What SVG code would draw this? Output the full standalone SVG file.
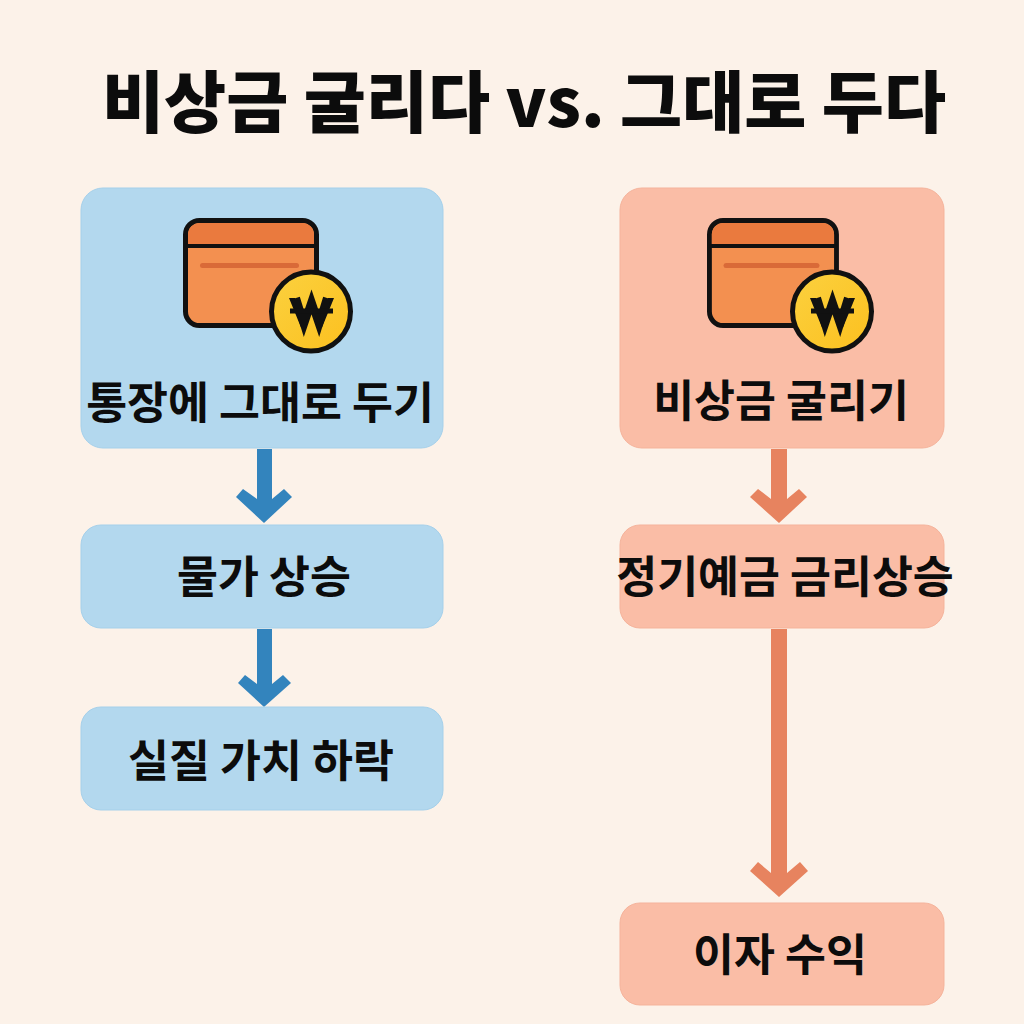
<svg xmlns="http://www.w3.org/2000/svg" width="1024" height="1024" viewBox="0 0 1024 1024">
<defs>
<style>
text{font-family:"Noto Sans CJK KR","Noto Sans",sans-serif;font-weight:700;fill:#0c0c0c;text-anchor:middle}
.t{font-size:44.5px}
.b{fill:#b3d8ee;stroke:#a5d0ea;stroke-width:1}
.r{fill:#fabda6;stroke:#f5b39b;stroke-width:1}
.ab{fill:#3384bd}
.ar{fill:#e7835f}
</style>
<linearGradient id="cg" x1="0" y1="0" x2="1" y2="1"><stop offset="0" stop-color="#fbd13f"/><stop offset="1" stop-color="#fcc01f"/></linearGradient>
<g id="wallet">
<rect x="185.500" y="220.500" width="131" height="105" rx="14" fill="#f39050" stroke="#111" stroke-width="5"/>
<path d="M188 245V235a12 12 0 0 1 12-12H302a12 12 0 0 1 12 12V245Z" fill="#ea7a3e"/>
<path d="M186 246H316" stroke="#111" stroke-width="4"/>
<rect x="200" y="263" width="99" height="5" rx="2.500" fill="#d96a38"/>
</g>
<g id="coin">
<circle cx="311" cy="311.500" r="39.500" fill="url(#cg)" stroke="#111" stroke-width="5"/>
<path d="M295 298L303.500 325L311.500 303L319.500 325L328 298L334 298L322 327.500L317 327.500L311.500 311L306 327.500L301 327.500L289 298Z" fill="#111"/>
<path d="M296 298L304 324L311.500 302L319 324L327 298" fill="none" stroke="#111" stroke-width="8"/>
<path d="M290 311H333" fill="none" stroke="#111" stroke-width="5"/>
</g>
</defs>
<rect width="1024" height="1024" fill="#fcf2e9"/>
<text id="title" x="524" y="127" style="font-size:67.500px;font-weight:900">비상금 굴리다 vs. 그대로 두다</text>
<g id="connectors">
<polygon class="ab" points="257,449 272,449 272,499 284,489 292,497 264,523 236,497 243,489 257,499"/>
<polygon class="ab" points="257,629 272,629 272,684 283,675 291,683 264,707 238,683 245,675 257,684"/>
<polygon class="ar" points="771,449 787,449 787,499 799,489 807,497 779,523 750,497 758,489 771,499"/>
<polygon class="ar" points="771,629 787,629 787,873 800,862 808,871 779,897 750,871 758,862 771,873"/>
</g>
<g id="n1"><rect class="b" x="81" y="188" width="362" height="260" rx="22"/><use href="#wallet"/><use href="#coin"/><text class="t" x="260" y="419">통장에 그대로 두기</text></g>
<g id="n2"><rect class="b" x="81" y="525" width="362" height="103" rx="20"/><text class="t" x="264" y="593">물가 상승</text></g>
<g id="n3"><rect class="b" x="81" y="707" width="362" height="103" rx="20"/><text class="t" x="261" y="777">실질 가치 하락</text></g>
<g id="n4"><rect class="r" x="620" y="188" width="324" height="260" rx="22"/><use href="#wallet" transform="translate(707 218) scale(.97 1) translate(-183 -218)"/><use href="#coin" transform="translate(521 0)"/><text class="t" x="781" y="417">비상금 굴리기</text></g>
<g id="n5"><rect class="r" x="620" y="525" width="324" height="103" rx="20"/><text class="t" x="785" y="593">정기예금 금리상승</text></g>
<g id="n6"><rect class="r" x="620" y="903" width="324" height="102" rx="20"/><text class="t" x="780" y="971">이자 수익</text></g>
</svg>
